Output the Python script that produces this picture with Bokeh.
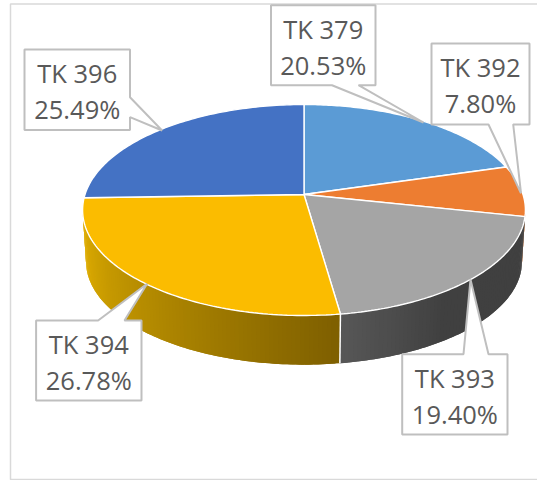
import numpy as np
from bokeh.plotting import figure
from bokeh.models import Range1d
from bokeh.core.properties import value
from bokeh.embed import file_html
from bokeh.resources import INLINE

categories = ["TK 379", "TK 392", "TK 393", "TK 394", "TK 396"]
shares = [20.53, 7.80, 19.40, 26.78, 25.49]
top_colors = ["#5B9BD5", "#ED7D31", "#A5A5A5", "#FBBC00", "#4472C4"]

# Callout geometry (pixels): box l, r, t, b, then the pointer outline
boxes = {
    "TK 379": (270.5, 375, 4.7, 84.7, [(358, 84.7), (423, 122), (331.5, 84.7)]),
    "TK 392": (431, 529, 43, 124, [(512.7, 124), (520.5, 192.7), (488, 124)]),
    "TK 393": (401.7, 507, 353.7, 434, [(463, 353.7), (470, 279), (488, 353.7)]),
    "TK 394": (35.6, 141, 320, 400, [(97.6, 320), (146.6, 283.3), (124, 320)]),
    "TK 396": (24, 129.5, 49, 129.5, [(129.5, 96.7), (161.6, 130), (129.5, 116.7)]),
}


def project(theta, cx, cy, a, b, k):
    u, v = np.sin(theta), np.cos(theta)
    d = 1 + k * v
    return cx + a * u / d, cy - b * v / d


def top(t):
    return project(t, 303.5, 194, 219, 103.2, 0.147)


def bottom(t):
    return project(t, 303.5, 246, 215.6, 100.8, 0.147)


def mix(c1, c2, f):
    f = min(max(f, 0), 1)
    return "#%02x%02x%02x" % tuple(int(round(a + (b - a) * f)) for a, b in zip(c1, c2))


edges = np.radians(np.concatenate([[0], np.cumsum(shares)]) * 3.6)

p = figure(width=537, height=480, output_backend="svg", toolbar_location=None,
           x_range=Range1d(0, 537), y_range=Range1d(480, 0), min_border=0,
           x_axis_type=None, y_axis_type=None, outline_line_color=None)
p.grid.visible = False

# chart frame
p.line([537, 10, 10, 537], [3.5, 3.5, 479, 479], line_color="#D9D9D9", line_width=1.5)


def side_color(i, t):
    if i == 1:
        return "#A8561F"
    if i == 2:
        return mix((0x40, 0x40, 0x40), (0x58, 0x58, 0x58), (np.degrees(t) - 145) / 27)
    return mix((0x7F, 0x60, 0x00), (0xE0, 0xAE, 0x00), (np.degrees(t) - 172) / 85)


# side wall: overlapping strips along the front of the pie
for i in (1, 2, 3):
    a0 = max(edges[i], np.radians(97))
    a1 = min(edges[i + 1], np.radians(263))
    ts = np.linspace(a0, a1, max(int(np.degrees(a1 - a0)) + 1, 2))
    for j in range(len(ts) - 1, 0, -1):
        t0, t1 = ts[j - 1], ts[j]
        t2 = a1 if j == len(ts) - 1 else ts[j + 1]
        x0, y0 = top(t0)
        x1, y1 = top(t1)
        xm, ym = top(t2)
        x2, y2 = bottom(t2)
        xn, yn = bottom(t1)
        x3, y3 = bottom(t0)
        c = side_color(i, (t0 + t1) / 2)
        p.patch([x0, x1, xm, x2, xn, x3], [y0, y1, ym, y2, yn, y3], fill_color=c, line_color=None)

# white seam at the grey / yellow boundary
bx0, by0 = top(edges[3])
bx1, by1 = bottom(edges[3])
p.line([bx0, bx1], [by0, by1], line_color="white", line_width=1.5)

# top face
apex = (303.5, 194.0)
for i, col in enumerate(top_colors):
    ts = np.linspace(edges[i], edges[i + 1], 90)
    xs, ys = top(ts)
    p.patch([apex[0], *xs], [apex[1], *ys], fill_color=col, line_color="white", line_width=1.4)

# callouts
for i, cat in enumerate(categories):
    l, r, t, b, ptr = boxes[cat]
    px = [q[0] for q in ptr]
    py = [q[1] for q in ptr]
    if cat == "TK 396":
        xs = [l, r, *px, r, l]
        ys = [t, t, *py, b, b]
    elif cat in ("TK 393", "TK 394"):
        xs = [l, *px, r, r, l]
        ys = [t, *py, t, b, b]
    else:
        xs = [l, r, r, *px, l]
        ys = [t, t, b, *py, b]
    p.patch(xs, ys, fill_color="white", line_color="#BFBFBF", line_width=2)
    xc = (l + r) / 2
    p.text([xc], [t + 23.5], text=[cat], text_font=value("Open Sans"), text_font_size="25.5px",
           text_color="#595959", text_align="center", text_baseline="middle")
    p.text([xc], [t + 59.5], text=[f"{shares[i]:.2f}%"], text_font=value("Open Sans"), text_font_size="25.5px",
           text_color="#595959", text_align="center", text_baseline="middle")

open("out.html", "w").write(file_html(p, INLINE))
